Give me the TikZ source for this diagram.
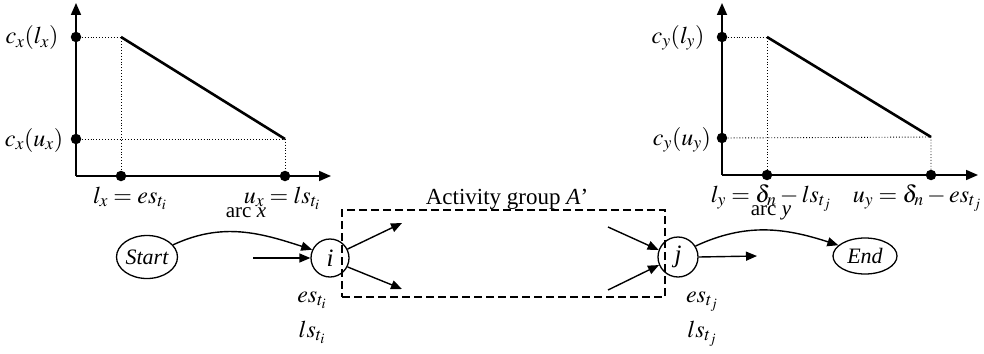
\documentclass[tikz,border=0pt]{standalone}
\usepackage{mathptmx}
\usepackage[no-math]{fontspec}
\setmainfont{Liberation Serif}
\usetikzlibrary{arrows.meta,shapes.geometric}
\begin{document}
\begin{tikzpicture}[x=1pt,y=-1pt,
  axis/.style={line width=1.7pt,-{Triangle[length=12pt,width=10pt]}},
  guide/.style={dotted,line width=0.9pt},
  cost/.style={line width=2.6pt},
  dot/.style={circle,fill=black,inner sep=0pt,minimum size=10.5pt},
  lab/.style={font=\fontsize{24}{28}\selectfont,inner sep=0pt},
  small/.style={font=\fontsize{21}{24}\selectfont,inner sep=0pt},
  conn/.style={line width=1.4pt,-{Triangle[length=11pt,width=9pt]}},
  evt/.style={circle,draw,line width=1.3pt,inner sep=0pt,font=\fontsize{25}{28}\selectfont\itshape},
  term/.style={ellipse,draw,line width=1.3pt,inner sep=0pt,font=\fontsize{22}{26}\selectfont\itshape},
  group/.style={draw,dashed,dash pattern=on 8pt off 4pt,line width=1.4pt,inner sep=0pt}]
\useasboundingbox (0,0) rectangle (984,353);

% ---------- left chart ----------
\coordinate (O1) at (76,176);
\coordinate (P1) at (121,37);
\coordinate (Q1) at (285,139);
\coordinate (Y1a) at (76,37);
\coordinate (Y1b) at (76,139);
\coordinate (X1a) at (121,176);
\coordinate (X1b) at (285,176);
\draw[guide] (Y1a) -- (P1) -- (X1a);
\draw[guide] (Y1b) -- (Q1) -- (X1b);
\draw[axis] (O1) -- (76,3);
\draw[axis] (O1) -- (331,176);
\draw[cost] (P1) -- (Q1);
\foreach \p in {Y1a,Y1b,X1a,X1b} \node[dot] at (\p) {};
\node[lab] (cxl) at (32,38) {$c_x(l_x)$};
\node[lab] (cxu) at (34,140) {$c_x(u_x)$};
\node[lab,anchor=base] (lx) at (130,203) {$l_x = es_{t_i}$};
\node[lab,anchor=base] (ux) at (282,203) {$u_x = ls_{t_i}$};

% ---------- right chart ----------
\coordinate (O2) at (722,175);
\coordinate (P2) at (767,37);
\coordinate (Q2) at (931,137);
\coordinate (Y2a) at (722,37);
\coordinate (Y2b) at (722,138);
\coordinate (X2a) at (767,175);
\coordinate (X2b) at (931,175);
\draw[guide] (Y2a) -- (P2) -- (X2a);
\draw[guide] (Y2b) -- (Q2) -- (X2b);
\draw[axis] (O2) -- (722,3);
\draw[axis] (O2) -- (978,175);
\draw[cost] (P2) -- (Q2);
\foreach \p in {Y2a,Y2b,X2a,X2b} \node[dot] at (\p) {};
\node[lab] (cyl) at (678,38) {$c_y(l_y)$};
\node[lab] (cyu) at (682,140) {$c_y(u_y)$};
\node[lab,anchor=base] (ly) at (771,202) {$l_y = \delta_n - ls_{t_j}$};
\node[lab,anchor=base] (uy) at (917,202) {$u_y = \delta_n - es_{t_j}$};

% ---------- network ----------
\node[group,minimum width=323pt,minimum height=87pt] (grp) at (503.5,253.5) {};
\node[font=\fontsize{23}{27}\selectfont,inner sep=0pt,anchor=base] (grplab) at (507,204) {Activity group \textit{A}’};

\node[term,minimum width=61pt,minimum height=43pt] (start) at (147,257) {Start};
\node[evt,minimum size=38pt] (i) at (330,258) {i};
\node[evt,minimum size=40pt] (j) at (678,257) {j};
\node[term,minimum width=64pt,minimum height=36pt] (end) at (865,256) {End};

\coordinate (inI) at (253,258);
\coordinate (outIa) at (402,223);
\coordinate (outIb) at (402,289);
\coordinate (inJa) at (608,227);
\coordinate (inJb) at (608,290);
\coordinate (outJ) at (757,256);

\draw[conn] (start.25) to[out=25,in=162] (i.155);
\draw[conn] (inI) -- (i.west);
\draw[conn] (i.27) -- (outIa);
\draw[conn] (i.-27) -- (outIb);
\draw[conn] (inJa) -- (j.160);
\draw[conn] (inJb) -- (j.203);
\draw[conn] (j.east) -- (outJ);
\draw[conn] (j.32) to[out=25,in=162] (end.158);

\node[small] (arcx) at (246,213) {arc \textit{x}};
\node[small] (arcy) at (771,213) {arc \textit{y}};

\node[lab,anchor=base] (esi) at (312,302) {$es_{t_i}$};
\node[lab,anchor=base] (lsi) at (312,337) {$ls_{t_i}$};
\node[lab,anchor=base] (esj) at (702,302) {$es_{t_j}$};
\node[lab,anchor=base] (lsj) at (702,337) {$ls_{t_j}$};
\end{tikzpicture}
\end{document}
